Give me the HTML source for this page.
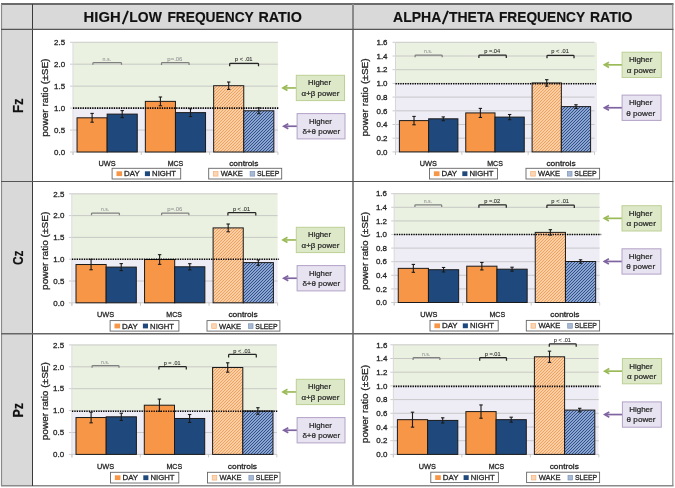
<!DOCTYPE html>
<html><head><meta charset="utf-8"><style>
html,body{margin:0;padding:0;background:#fff;width:675px;height:488px;overflow:hidden}
svg{display:block;font-family:"Liberation Sans", sans-serif;will-change:transform}
</style></head><body>
<svg width="675" height="488" viewBox="0 0 675 488">
<defs>
<pattern id="hwake" patternUnits="userSpaceOnUse" x="0" y="0" width="3" height="3">
<rect width="3" height="3" fill="#FBCFA4"/><rect x="0" y="2" width="1" height="1" fill="#F2A060"/><rect x="1" y="1" width="1" height="1" fill="#F2A060"/><rect x="2" y="0" width="1" height="1" fill="#F2A060"/></pattern>
<pattern id="hsleep" patternUnits="userSpaceOnUse" x="0" y="0" width="3" height="3">
<rect width="3" height="3" fill="#8AA5CF"/><rect x="0" y="2" width="1" height="1" fill="#34508A"/><rect x="1" y="1" width="1" height="1" fill="#34508A"/><rect x="2" y="0" width="1" height="1" fill="#34508A"/></pattern>
</defs>
<rect x="0" y="0" width="675" height="488" fill="#fff"/>
<rect x="1.50" y="4.00" width="671.50" height="25.00" fill="#D9D9D9" />
<rect x="1.50" y="29.00" width="31.00" height="456.50" fill="#D9D9D9" />
<rect x="73.50" y="42.25" width="204.40" height="65.85" fill="#EAF1E0" />
<rect x="73.50" y="108.10" width="204.40" height="43.90" fill="#EEECF5" />
<line x1="70.00" y1="152.00" x2="277.90" y2="152.00" stroke="#BFBFBF" stroke-width="0.8" />
<text x="54.08" y="154.75" font-size="8.0" fill="#262626" font-weight="normal" stroke="#262626" stroke-width="0.3" textLength="11.04" lengthAdjust="spacingAndGlyphs" >0.0</text>
<line x1="70.00" y1="130.05" x2="277.90" y2="130.05" stroke="#BFBFBF" stroke-width="0.8" />
<text x="54.08" y="132.80" font-size="8.0" fill="#262626" font-weight="normal" stroke="#262626" stroke-width="0.3" textLength="11.04" lengthAdjust="spacingAndGlyphs" >0.5</text>
<line x1="70.00" y1="108.10" x2="277.90" y2="108.10" stroke="#BFBFBF" stroke-width="0.8" />
<text x="54.08" y="110.85" font-size="8.0" fill="#262626" font-weight="normal" stroke="#262626" stroke-width="0.3" textLength="11.04" lengthAdjust="spacingAndGlyphs" >1.0</text>
<line x1="70.00" y1="86.15" x2="277.90" y2="86.15" stroke="#BFBFBF" stroke-width="0.8" />
<text x="54.08" y="88.90" font-size="8.0" fill="#262626" font-weight="normal" stroke="#262626" stroke-width="0.3" textLength="11.04" lengthAdjust="spacingAndGlyphs" >1.5</text>
<line x1="70.00" y1="64.20" x2="277.90" y2="64.20" stroke="#BFBFBF" stroke-width="0.8" />
<text x="54.08" y="66.95" font-size="8.0" fill="#262626" font-weight="normal" stroke="#262626" stroke-width="0.3" textLength="11.04" lengthAdjust="spacingAndGlyphs" >2.0</text>
<line x1="70.00" y1="42.25" x2="277.90" y2="42.25" stroke="#BFBFBF" stroke-width="0.8" />
<text x="54.08" y="45.00" font-size="8.0" fill="#262626" font-weight="normal" stroke="#262626" stroke-width="0.3" textLength="11.04" lengthAdjust="spacingAndGlyphs" >2.5</text>
<line x1="73.00" y1="42.25" x2="73.00" y2="155.00" stroke="#D6D6DA" stroke-width="1" />
<line x1="73.00" y1="152.00" x2="73.00" y2="155.00" stroke="#BFBFBF" stroke-width="0.8" />
<line x1="141.30" y1="152.00" x2="141.30" y2="155.00" stroke="#BFBFBF" stroke-width="0.8" />
<line x1="209.60" y1="152.00" x2="209.60" y2="155.00" stroke="#BFBFBF" stroke-width="0.8" />
<line x1="277.90" y1="152.00" x2="277.90" y2="155.00" stroke="#BFBFBF" stroke-width="0.8" />
<rect x="77.05" y="117.80" width="30.10" height="34.20" fill="#F79646" stroke="#1a1a1a" stroke-width="1" />
<rect x="107.15" y="114.11" width="30.10" height="37.89" fill="#1F497D" stroke="#1a1a1a" stroke-width="1" />
<rect x="145.35" y="101.38" width="30.10" height="50.62" fill="#F79646" stroke="#1a1a1a" stroke-width="1" />
<rect x="175.45" y="112.62" width="30.10" height="39.38" fill="#1F497D" stroke="#1a1a1a" stroke-width="1" />
<rect x="213.65" y="85.71" width="30.10" height="66.29" fill="url(#hwake)" stroke="#1a1a1a" stroke-width="1" />
<rect x="243.75" y="110.78" width="30.10" height="41.22" fill="url(#hsleep)" stroke="#1a1a1a" stroke-width="1" />
<line x1="73.00" y1="108.10" x2="279.40" y2="108.10" stroke="#000" stroke-width="1.6" stroke-dasharray="1.3 1.1"/>
<line x1="92.10" y1="113.41" x2="92.10" y2="122.19" stroke="#1a1a1a" stroke-width="1.1" />
<line x1="90.40" y1="113.41" x2="93.80" y2="113.41" stroke="#1a1a1a" stroke-width="1.1" />
<line x1="90.40" y1="122.19" x2="93.80" y2="122.19" stroke="#1a1a1a" stroke-width="1.1" />
<line x1="122.20" y1="110.60" x2="122.20" y2="117.63" stroke="#1a1a1a" stroke-width="1.1" />
<line x1="120.50" y1="110.60" x2="123.90" y2="110.60" stroke="#1a1a1a" stroke-width="1.1" />
<line x1="120.50" y1="117.63" x2="123.90" y2="117.63" stroke="#1a1a1a" stroke-width="1.1" />
<line x1="160.40" y1="96.99" x2="160.40" y2="105.77" stroke="#1a1a1a" stroke-width="1.1" />
<line x1="158.70" y1="96.99" x2="162.10" y2="96.99" stroke="#1a1a1a" stroke-width="1.1" />
<line x1="158.70" y1="105.77" x2="162.10" y2="105.77" stroke="#1a1a1a" stroke-width="1.1" />
<line x1="190.50" y1="108.71" x2="190.50" y2="116.53" stroke="#1a1a1a" stroke-width="1.1" />
<line x1="188.80" y1="108.71" x2="192.20" y2="108.71" stroke="#1a1a1a" stroke-width="1.1" />
<line x1="188.80" y1="116.53" x2="192.20" y2="116.53" stroke="#1a1a1a" stroke-width="1.1" />
<line x1="228.70" y1="82.02" x2="228.70" y2="89.40" stroke="#1a1a1a" stroke-width="1.1" />
<line x1="227.00" y1="82.02" x2="230.40" y2="82.02" stroke="#1a1a1a" stroke-width="1.1" />
<line x1="227.00" y1="89.40" x2="230.40" y2="89.40" stroke="#1a1a1a" stroke-width="1.1" />
<line x1="258.80" y1="107.84" x2="258.80" y2="113.72" stroke="#1a1a1a" stroke-width="1.1" />
<line x1="257.10" y1="107.84" x2="260.50" y2="107.84" stroke="#1a1a1a" stroke-width="1.1" />
<line x1="257.10" y1="113.72" x2="260.50" y2="113.72" stroke="#1a1a1a" stroke-width="1.1" />
<path d="M92.90,64.80 L92.90,63.40 Q92.90,62.60 93.70,62.60 L120.70,62.60 Q121.50,62.60 121.50,63.40 L121.50,64.80" fill="none" stroke="#808080" stroke-width="1.25"/>
<text x="102.58" y="60.70" font-size="5.4" fill="#9A9A9A" font-weight="normal" stroke="#9A9A9A" stroke-width="0.1" textLength="8.43" lengthAdjust="spacingAndGlyphs" >n.s.</text>
<path d="M161.50,64.90 L161.50,63.50 Q161.50,62.70 162.30,62.70 L188.30,62.70 Q189.10,62.70 189.10,63.50 L189.10,64.90" fill="none" stroke="#808080" stroke-width="1.25"/>
<text x="167.38" y="60.80" font-size="5.4" fill="#9A9A9A" font-weight="normal" stroke="#9A9A9A" stroke-width="0.1" textLength="15.03" lengthAdjust="spacingAndGlyphs" >p=.06</text>
<path d="M229.70,66.30 L229.70,64.10 Q229.70,63.30 230.50,63.30 L257.70,63.30 Q258.50,63.30 258.50,64.10 L258.50,66.30" fill="none" stroke="#262626" stroke-width="1.25"/>
<text x="234.88" y="61.40" font-size="5.4" fill="#333333" font-weight="normal" stroke="#333333" stroke-width="0.1" textLength="17.63" lengthAdjust="spacingAndGlyphs" >p &lt; .01</text>
<text x="98.49" y="165.70" font-size="7.8" fill="#262626" font-weight="normal" stroke="#262626" stroke-width="0.3" textLength="17.12" lengthAdjust="spacingAndGlyphs" >UWS</text>
<text x="167.69" y="165.70" font-size="7.8" fill="#262626" font-weight="normal" stroke="#262626" stroke-width="0.3" textLength="15.62" lengthAdjust="spacingAndGlyphs" >MCS</text>
<text x="229.19" y="165.70" font-size="7.8" fill="#262626" font-weight="normal" stroke="#262626" stroke-width="0.3" textLength="29.22" lengthAdjust="spacingAndGlyphs" >controls</text>
<text x="0" y="0" font-size="9.6" fill="#262626" stroke="#262626" stroke-width="0.3" textLength="78.2" lengthAdjust="spacingAndGlyphs" transform="translate(47.90,136.75) rotate(-90)">power ratio (±SE)</text>
<rect x="112.10" y="168.30" width="68.60" height="10.70" fill="#fff" stroke="#666" stroke-width="0.9" />
<rect x="116.50" y="171.30" width="5.60" height="4.80" fill="#F79646" />
<text x="124.08" y="176.30" font-size="7.9" fill="#262626" font-weight="normal" stroke="#262626" stroke-width="0.3" textLength="15.63" lengthAdjust="spacingAndGlyphs" >DAY</text>
<rect x="144.90" y="171.30" width="5.10" height="4.80" fill="#1F497D" />
<text x="152.08" y="176.30" font-size="7.9" fill="#262626" font-weight="normal" stroke="#262626" stroke-width="0.3" textLength="23.93" lengthAdjust="spacingAndGlyphs" >NIGHT</text>
<rect x="208.70" y="168.30" width="73.00" height="10.70" fill="#fff" stroke="#666" stroke-width="0.9" />
<rect x="213.40" y="171.50" width="4.60" height="4.60" fill="#FCD5B5" stroke="#F5B27A" stroke-width="0.7" />
<text x="220.78" y="176.30" font-size="7.9" fill="#262626" font-weight="normal" stroke="#262626" stroke-width="0.3" textLength="21.93" lengthAdjust="spacingAndGlyphs" >WAKE</text>
<rect x="250.10" y="171.50" width="4.60" height="4.60" fill="#A7B9D3" stroke="#7F95B8" stroke-width="0.7" />
<text x="256.98" y="176.30" font-size="7.9" fill="#262626" font-weight="normal" stroke="#262626" stroke-width="0.3" textLength="22.33" lengthAdjust="spacingAndGlyphs" >SLEEP</text>
<rect x="396.00" y="42.30" width="201.00" height="41.10" fill="#EAF1E0" />
<rect x="396.00" y="83.40" width="201.00" height="68.50" fill="#EEECF5" />
<line x1="392.50" y1="151.90" x2="594.55" y2="151.90" stroke="#BFBFBF" stroke-width="0.8" />
<text x="376.48" y="154.65" font-size="8.0" fill="#262626" font-weight="normal" stroke="#262626" stroke-width="0.3" textLength="11.04" lengthAdjust="spacingAndGlyphs" >0.0</text>
<line x1="392.50" y1="138.20" x2="594.55" y2="138.20" stroke="#BFBFBF" stroke-width="0.8" />
<text x="376.48" y="140.95" font-size="8.0" fill="#262626" font-weight="normal" stroke="#262626" stroke-width="0.3" textLength="11.04" lengthAdjust="spacingAndGlyphs" >0.2</text>
<line x1="392.50" y1="124.50" x2="594.55" y2="124.50" stroke="#BFBFBF" stroke-width="0.8" />
<text x="376.48" y="127.25" font-size="8.0" fill="#262626" font-weight="normal" stroke="#262626" stroke-width="0.3" textLength="11.04" lengthAdjust="spacingAndGlyphs" >0.4</text>
<line x1="392.50" y1="110.80" x2="594.55" y2="110.80" stroke="#BFBFBF" stroke-width="0.8" />
<text x="376.48" y="113.55" font-size="8.0" fill="#262626" font-weight="normal" stroke="#262626" stroke-width="0.3" textLength="11.04" lengthAdjust="spacingAndGlyphs" >0.6</text>
<line x1="392.50" y1="97.10" x2="594.55" y2="97.10" stroke="#BFBFBF" stroke-width="0.8" />
<text x="376.48" y="99.85" font-size="8.0" fill="#262626" font-weight="normal" stroke="#262626" stroke-width="0.3" textLength="11.04" lengthAdjust="spacingAndGlyphs" >0.8</text>
<line x1="392.50" y1="83.40" x2="594.55" y2="83.40" stroke="#BFBFBF" stroke-width="0.8" />
<text x="376.48" y="86.15" font-size="8.0" fill="#262626" font-weight="normal" stroke="#262626" stroke-width="0.3" textLength="11.04" lengthAdjust="spacingAndGlyphs" >1.0</text>
<line x1="392.50" y1="69.70" x2="594.55" y2="69.70" stroke="#BFBFBF" stroke-width="0.8" />
<text x="376.48" y="72.45" font-size="8.0" fill="#262626" font-weight="normal" stroke="#262626" stroke-width="0.3" textLength="11.04" lengthAdjust="spacingAndGlyphs" >1.2</text>
<line x1="392.50" y1="56.00" x2="594.55" y2="56.00" stroke="#BFBFBF" stroke-width="0.8" />
<text x="376.48" y="58.75" font-size="8.0" fill="#262626" font-weight="normal" stroke="#262626" stroke-width="0.3" textLength="11.04" lengthAdjust="spacingAndGlyphs" >1.4</text>
<line x1="392.50" y1="42.30" x2="594.55" y2="42.30" stroke="#BFBFBF" stroke-width="0.8" />
<text x="376.48" y="45.05" font-size="8.0" fill="#262626" font-weight="normal" stroke="#262626" stroke-width="0.3" textLength="11.04" lengthAdjust="spacingAndGlyphs" >1.6</text>
<line x1="395.50" y1="42.30" x2="395.50" y2="154.90" stroke="#D6D6DA" stroke-width="1" />
<line x1="395.50" y1="151.90" x2="395.50" y2="154.90" stroke="#BFBFBF" stroke-width="0.8" />
<line x1="461.85" y1="151.90" x2="461.85" y2="154.90" stroke="#BFBFBF" stroke-width="0.8" />
<line x1="528.20" y1="151.90" x2="528.20" y2="154.90" stroke="#BFBFBF" stroke-width="0.8" />
<line x1="594.55" y1="151.90" x2="594.55" y2="154.90" stroke="#BFBFBF" stroke-width="0.8" />
<rect x="399.40" y="120.60" width="29.25" height="31.30" fill="#F79646" stroke="#1a1a1a" stroke-width="1" />
<rect x="428.65" y="118.81" width="29.25" height="33.09" fill="#1F497D" stroke="#1a1a1a" stroke-width="1" />
<rect x="465.75" y="112.92" width="29.25" height="38.98" fill="#F79646" stroke="#1a1a1a" stroke-width="1" />
<rect x="495.00" y="117.10" width="29.25" height="34.80" fill="#1F497D" stroke="#1a1a1a" stroke-width="1" />
<rect x="532.10" y="82.92" width="29.25" height="68.98" fill="url(#hwake)" stroke="#1a1a1a" stroke-width="1" />
<rect x="561.35" y="106.62" width="29.25" height="45.28" fill="url(#hsleep)" stroke="#1a1a1a" stroke-width="1" />
<line x1="395.50" y1="83.70" x2="596.05" y2="83.70" stroke="#000" stroke-width="1.6" stroke-dasharray="1.3 1.1"/>
<line x1="414.02" y1="116.42" x2="414.02" y2="124.77" stroke="#1a1a1a" stroke-width="1.1" />
<line x1="412.32" y1="116.42" x2="415.72" y2="116.42" stroke="#1a1a1a" stroke-width="1.1" />
<line x1="412.32" y1="124.77" x2="415.72" y2="124.77" stroke="#1a1a1a" stroke-width="1.1" />
<line x1="443.27" y1="116.90" x2="443.27" y2="120.73" stroke="#1a1a1a" stroke-width="1.1" />
<line x1="441.57" y1="116.90" x2="444.97" y2="116.90" stroke="#1a1a1a" stroke-width="1.1" />
<line x1="441.57" y1="120.73" x2="444.97" y2="120.73" stroke="#1a1a1a" stroke-width="1.1" />
<line x1="480.38" y1="108.40" x2="480.38" y2="117.44" stroke="#1a1a1a" stroke-width="1.1" />
<line x1="478.68" y1="108.40" x2="482.07" y2="108.40" stroke="#1a1a1a" stroke-width="1.1" />
<line x1="478.68" y1="117.44" x2="482.07" y2="117.44" stroke="#1a1a1a" stroke-width="1.1" />
<line x1="509.62" y1="114.50" x2="509.62" y2="119.71" stroke="#1a1a1a" stroke-width="1.1" />
<line x1="507.93" y1="114.50" x2="511.32" y2="114.50" stroke="#1a1a1a" stroke-width="1.1" />
<line x1="507.93" y1="119.71" x2="511.32" y2="119.71" stroke="#1a1a1a" stroke-width="1.1" />
<line x1="546.73" y1="79.70" x2="546.73" y2="86.14" stroke="#1a1a1a" stroke-width="1.1" />
<line x1="545.02" y1="79.70" x2="548.43" y2="79.70" stroke="#1a1a1a" stroke-width="1.1" />
<line x1="545.02" y1="86.14" x2="548.43" y2="86.14" stroke="#1a1a1a" stroke-width="1.1" />
<line x1="575.98" y1="104.77" x2="575.98" y2="108.47" stroke="#1a1a1a" stroke-width="1.1" />
<line x1="574.27" y1="104.77" x2="577.68" y2="104.77" stroke="#1a1a1a" stroke-width="1.1" />
<line x1="574.27" y1="108.47" x2="577.68" y2="108.47" stroke="#1a1a1a" stroke-width="1.1" />
<path d="M415.10,57.30 L415.10,55.90 Q415.10,55.10 415.90,55.10 L441.40,55.10 Q442.20,55.10 442.20,55.90 L442.20,57.30" fill="none" stroke="#808080" stroke-width="1.25"/>
<text x="424.03" y="53.20" font-size="5.4" fill="#9A9A9A" font-weight="normal" stroke="#9A9A9A" stroke-width="0.1" textLength="8.43" lengthAdjust="spacingAndGlyphs" >n.s.</text>
<path d="M478.90,58.10 L478.90,55.90 Q478.90,55.10 479.70,55.10 L505.50,55.10 Q506.30,55.10 506.30,55.90 L506.30,58.10" fill="none" stroke="#262626" stroke-width="1.25"/>
<text x="484.23" y="53.20" font-size="5.4" fill="#333333" font-weight="normal" stroke="#333333" stroke-width="0.1" textLength="15.93" lengthAdjust="spacingAndGlyphs" >p =.04</text>
<path d="M547.00,58.30 L547.00,56.10 Q547.00,55.30 547.80,55.30 L573.20,55.30 Q574.00,55.30 574.00,56.10 L574.00,58.30" fill="none" stroke="#262626" stroke-width="1.25"/>
<text x="551.28" y="53.40" font-size="5.4" fill="#333333" font-weight="normal" stroke="#333333" stroke-width="0.1" textLength="17.63" lengthAdjust="spacingAndGlyphs" >p &lt; .01</text>
<text x="419.79" y="165.70" font-size="7.8" fill="#262626" font-weight="normal" stroke="#262626" stroke-width="0.3" textLength="17.12" lengthAdjust="spacingAndGlyphs" >UWS</text>
<text x="487.24" y="165.70" font-size="7.8" fill="#262626" font-weight="normal" stroke="#262626" stroke-width="0.3" textLength="15.62" lengthAdjust="spacingAndGlyphs" >MCS</text>
<text x="546.44" y="165.70" font-size="7.8" fill="#262626" font-weight="normal" stroke="#262626" stroke-width="0.3" textLength="29.22" lengthAdjust="spacingAndGlyphs" >controls</text>
<text x="0" y="0" font-size="9.6" fill="#262626" stroke="#262626" stroke-width="0.3" textLength="78.2" lengthAdjust="spacingAndGlyphs" transform="translate(367.90,136.55) rotate(-90)">power ratio (±SE)</text>
<rect x="429.50" y="168.30" width="68.00" height="10.70" fill="#fff" stroke="#666" stroke-width="0.9" />
<rect x="433.90" y="171.30" width="5.60" height="4.80" fill="#F79646" />
<text x="441.48" y="176.30" font-size="7.9" fill="#262626" font-weight="normal" stroke="#262626" stroke-width="0.3" textLength="15.63" lengthAdjust="spacingAndGlyphs" >DAY</text>
<rect x="462.30" y="171.30" width="5.10" height="4.80" fill="#1F497D" />
<text x="469.48" y="176.30" font-size="7.9" fill="#262626" font-weight="normal" stroke="#262626" stroke-width="0.3" textLength="23.93" lengthAdjust="spacingAndGlyphs" >NIGHT</text>
<rect x="526.00" y="168.30" width="73.60" height="10.70" fill="#fff" stroke="#666" stroke-width="0.9" />
<rect x="530.70" y="171.50" width="4.60" height="4.60" fill="#FCD5B5" stroke="#F5B27A" stroke-width="0.7" />
<text x="538.08" y="176.30" font-size="7.9" fill="#262626" font-weight="normal" stroke="#262626" stroke-width="0.3" textLength="21.93" lengthAdjust="spacingAndGlyphs" >WAKE</text>
<rect x="567.40" y="171.50" width="4.60" height="4.60" fill="#A7B9D3" stroke="#7F95B8" stroke-width="0.7" />
<text x="574.28" y="176.30" font-size="7.9" fill="#262626" font-weight="normal" stroke="#262626" stroke-width="0.3" textLength="22.33" lengthAdjust="spacingAndGlyphs" >SLEEP</text>
<rect x="72.40" y="193.80" width="205.20" height="65.40" fill="#EAF1E0" />
<rect x="72.40" y="259.20" width="205.20" height="43.60" fill="#EEECF5" />
<line x1="68.90" y1="302.80" x2="277.55" y2="302.80" stroke="#BFBFBF" stroke-width="0.8" />
<text x="53.28" y="305.55" font-size="8.0" fill="#262626" font-weight="normal" stroke="#262626" stroke-width="0.3" textLength="11.04" lengthAdjust="spacingAndGlyphs" >0.0</text>
<line x1="68.90" y1="281.00" x2="277.55" y2="281.00" stroke="#BFBFBF" stroke-width="0.8" />
<text x="53.28" y="283.75" font-size="8.0" fill="#262626" font-weight="normal" stroke="#262626" stroke-width="0.3" textLength="11.04" lengthAdjust="spacingAndGlyphs" >0.5</text>
<line x1="68.90" y1="259.20" x2="277.55" y2="259.20" stroke="#BFBFBF" stroke-width="0.8" />
<text x="53.28" y="261.95" font-size="8.0" fill="#262626" font-weight="normal" stroke="#262626" stroke-width="0.3" textLength="11.04" lengthAdjust="spacingAndGlyphs" >1.0</text>
<line x1="68.90" y1="237.40" x2="277.55" y2="237.40" stroke="#BFBFBF" stroke-width="0.8" />
<text x="53.28" y="240.15" font-size="8.0" fill="#262626" font-weight="normal" stroke="#262626" stroke-width="0.3" textLength="11.04" lengthAdjust="spacingAndGlyphs" >1.5</text>
<line x1="68.90" y1="215.60" x2="277.55" y2="215.60" stroke="#BFBFBF" stroke-width="0.8" />
<text x="53.28" y="218.35" font-size="8.0" fill="#262626" font-weight="normal" stroke="#262626" stroke-width="0.3" textLength="11.04" lengthAdjust="spacingAndGlyphs" >2.0</text>
<line x1="68.90" y1="193.80" x2="277.55" y2="193.80" stroke="#BFBFBF" stroke-width="0.8" />
<text x="53.28" y="196.55" font-size="8.0" fill="#262626" font-weight="normal" stroke="#262626" stroke-width="0.3" textLength="11.04" lengthAdjust="spacingAndGlyphs" >2.5</text>
<line x1="71.90" y1="193.80" x2="71.90" y2="305.80" stroke="#D6D6DA" stroke-width="1" />
<line x1="71.90" y1="302.80" x2="71.90" y2="305.80" stroke="#BFBFBF" stroke-width="0.8" />
<line x1="140.45" y1="302.80" x2="140.45" y2="305.80" stroke="#BFBFBF" stroke-width="0.8" />
<line x1="209.00" y1="302.80" x2="209.00" y2="305.80" stroke="#BFBFBF" stroke-width="0.8" />
<line x1="277.55" y1="302.80" x2="277.55" y2="305.80" stroke="#BFBFBF" stroke-width="0.8" />
<rect x="76.00" y="264.52" width="30.15" height="38.28" fill="#F79646" stroke="#1a1a1a" stroke-width="1" />
<rect x="106.15" y="267.09" width="30.15" height="35.71" fill="#1F497D" stroke="#1a1a1a" stroke-width="1" />
<rect x="144.55" y="259.51" width="30.15" height="43.29" fill="#F79646" stroke="#1a1a1a" stroke-width="1" />
<rect x="174.70" y="266.79" width="30.15" height="36.01" fill="#1F497D" stroke="#1a1a1a" stroke-width="1" />
<rect x="213.10" y="227.90" width="30.15" height="74.90" fill="url(#hwake)" stroke="#1a1a1a" stroke-width="1" />
<rect x="243.25" y="262.60" width="30.15" height="40.20" fill="url(#hsleep)" stroke="#1a1a1a" stroke-width="1" />
<line x1="71.90" y1="259.20" x2="279.05" y2="259.20" stroke="#000" stroke-width="1.6" stroke-dasharray="1.3 1.1"/>
<line x1="91.08" y1="259.29" x2="91.08" y2="269.75" stroke="#1a1a1a" stroke-width="1.1" />
<line x1="89.38" y1="259.29" x2="92.78" y2="259.29" stroke="#1a1a1a" stroke-width="1.1" />
<line x1="89.38" y1="269.75" x2="92.78" y2="269.75" stroke="#1a1a1a" stroke-width="1.1" />
<line x1="121.23" y1="263.60" x2="121.23" y2="270.58" stroke="#1a1a1a" stroke-width="1.1" />
<line x1="119.53" y1="263.60" x2="122.93" y2="263.60" stroke="#1a1a1a" stroke-width="1.1" />
<line x1="119.53" y1="270.58" x2="122.93" y2="270.58" stroke="#1a1a1a" stroke-width="1.1" />
<line x1="159.62" y1="254.67" x2="159.62" y2="264.34" stroke="#1a1a1a" stroke-width="1.1" />
<line x1="157.92" y1="254.67" x2="161.32" y2="254.67" stroke="#1a1a1a" stroke-width="1.1" />
<line x1="157.92" y1="264.34" x2="161.32" y2="264.34" stroke="#1a1a1a" stroke-width="1.1" />
<line x1="189.77" y1="263.69" x2="189.77" y2="269.88" stroke="#1a1a1a" stroke-width="1.1" />
<line x1="188.07" y1="263.69" x2="191.47" y2="263.69" stroke="#1a1a1a" stroke-width="1.1" />
<line x1="188.07" y1="269.88" x2="191.47" y2="269.88" stroke="#1a1a1a" stroke-width="1.1" />
<line x1="228.17" y1="224.01" x2="228.17" y2="231.78" stroke="#1a1a1a" stroke-width="1.1" />
<line x1="226.47" y1="224.01" x2="229.87" y2="224.01" stroke="#1a1a1a" stroke-width="1.1" />
<line x1="226.47" y1="231.78" x2="229.87" y2="231.78" stroke="#1a1a1a" stroke-width="1.1" />
<line x1="258.32" y1="259.90" x2="258.32" y2="265.30" stroke="#1a1a1a" stroke-width="1.1" />
<line x1="256.62" y1="259.90" x2="260.02" y2="259.90" stroke="#1a1a1a" stroke-width="1.1" />
<line x1="256.62" y1="265.30" x2="260.02" y2="265.30" stroke="#1a1a1a" stroke-width="1.1" />
<path d="M91.50,215.20 L91.50,213.80 Q91.50,213.00 92.30,213.00 L118.60,213.00 Q119.40,213.00 119.40,213.80 L119.40,215.20" fill="none" stroke="#808080" stroke-width="1.25"/>
<text x="100.98" y="211.10" font-size="5.4" fill="#9A9A9A" font-weight="normal" stroke="#9A9A9A" stroke-width="0.1" textLength="8.13" lengthAdjust="spacingAndGlyphs" >n.s.</text>
<path d="M161.60,215.20 L161.60,213.80 Q161.60,213.00 162.40,213.00 L188.10,213.00 Q188.90,213.00 188.90,213.80 L188.90,215.20" fill="none" stroke="#808080" stroke-width="1.25"/>
<text x="167.33" y="211.10" font-size="5.4" fill="#9A9A9A" font-weight="normal" stroke="#9A9A9A" stroke-width="0.1" textLength="15.03" lengthAdjust="spacingAndGlyphs" >p=.06</text>
<path d="M227.90,215.50 L227.90,213.30 Q227.90,212.50 228.70,212.50 L255.00,212.50 Q255.80,212.50 255.80,213.30 L255.80,215.50" fill="none" stroke="#262626" stroke-width="1.25"/>
<text x="232.93" y="210.60" font-size="5.4" fill="#333333" font-weight="normal" stroke="#333333" stroke-width="0.1" textLength="17.03" lengthAdjust="spacingAndGlyphs" >p &lt; .01</text>
<text x="96.99" y="316.80" font-size="7.8" fill="#262626" font-weight="normal" stroke="#262626" stroke-width="0.3" textLength="17.12" lengthAdjust="spacingAndGlyphs" >UWS</text>
<text x="166.34" y="316.80" font-size="7.8" fill="#262626" font-weight="normal" stroke="#262626" stroke-width="0.3" textLength="15.62" lengthAdjust="spacingAndGlyphs" >MCS</text>
<text x="228.44" y="316.80" font-size="7.8" fill="#262626" font-weight="normal" stroke="#262626" stroke-width="0.3" textLength="29.22" lengthAdjust="spacingAndGlyphs" >controls</text>
<text x="0" y="0" font-size="9.6" fill="#262626" stroke="#262626" stroke-width="0.3" textLength="78.2" lengthAdjust="spacingAndGlyphs" transform="translate(47.90,289.95) rotate(-90)">power ratio (±SE)</text>
<rect x="110.10" y="320.60" width="68.80" height="10.50" fill="#fff" stroke="#666" stroke-width="0.9" />
<rect x="114.50" y="323.60" width="5.60" height="4.80" fill="#F79646" />
<text x="122.08" y="328.60" font-size="7.9" fill="#262626" font-weight="normal" stroke="#262626" stroke-width="0.3" textLength="15.63" lengthAdjust="spacingAndGlyphs" >DAY</text>
<rect x="142.90" y="323.60" width="5.10" height="4.80" fill="#1F497D" />
<text x="150.08" y="328.60" font-size="7.9" fill="#262626" font-weight="normal" stroke="#262626" stroke-width="0.3" textLength="23.93" lengthAdjust="spacingAndGlyphs" >NIGHT</text>
<rect x="207.00" y="320.60" width="72.90" height="10.50" fill="#fff" stroke="#666" stroke-width="0.9" />
<rect x="211.70" y="323.80" width="4.60" height="4.60" fill="#FCD5B5" stroke="#F5B27A" stroke-width="0.7" />
<text x="219.08" y="328.60" font-size="7.9" fill="#262626" font-weight="normal" stroke="#262626" stroke-width="0.3" textLength="21.93" lengthAdjust="spacingAndGlyphs" >WAKE</text>
<rect x="248.40" y="323.80" width="4.60" height="4.60" fill="#A7B9D3" stroke="#7F95B8" stroke-width="0.7" />
<text x="255.28" y="328.60" font-size="7.9" fill="#262626" font-weight="normal" stroke="#262626" stroke-width="0.3" textLength="22.33" lengthAdjust="spacingAndGlyphs" >SLEEP</text>
<rect x="394.70" y="193.70" width="204.80" height="40.80" fill="#EAF1E0" />
<rect x="394.70" y="234.50" width="204.80" height="68.00" fill="#EEECF5" />
<line x1="391.20" y1="302.50" x2="599.70" y2="302.50" stroke="#BFBFBF" stroke-width="0.8" />
<text x="375.88" y="305.25" font-size="8.0" fill="#262626" font-weight="normal" stroke="#262626" stroke-width="0.3" textLength="11.04" lengthAdjust="spacingAndGlyphs" >0.0</text>
<line x1="391.20" y1="288.90" x2="599.70" y2="288.90" stroke="#BFBFBF" stroke-width="0.8" />
<text x="375.88" y="291.65" font-size="8.0" fill="#262626" font-weight="normal" stroke="#262626" stroke-width="0.3" textLength="11.04" lengthAdjust="spacingAndGlyphs" >0.2</text>
<line x1="391.20" y1="275.30" x2="599.70" y2="275.30" stroke="#BFBFBF" stroke-width="0.8" />
<text x="375.88" y="278.05" font-size="8.0" fill="#262626" font-weight="normal" stroke="#262626" stroke-width="0.3" textLength="11.04" lengthAdjust="spacingAndGlyphs" >0.4</text>
<line x1="391.20" y1="261.70" x2="599.70" y2="261.70" stroke="#BFBFBF" stroke-width="0.8" />
<text x="375.88" y="264.45" font-size="8.0" fill="#262626" font-weight="normal" stroke="#262626" stroke-width="0.3" textLength="11.04" lengthAdjust="spacingAndGlyphs" >0.6</text>
<line x1="391.20" y1="248.10" x2="599.70" y2="248.10" stroke="#BFBFBF" stroke-width="0.8" />
<text x="375.88" y="250.85" font-size="8.0" fill="#262626" font-weight="normal" stroke="#262626" stroke-width="0.3" textLength="11.04" lengthAdjust="spacingAndGlyphs" >0.8</text>
<line x1="391.20" y1="234.50" x2="599.70" y2="234.50" stroke="#BFBFBF" stroke-width="0.8" />
<text x="375.88" y="237.25" font-size="8.0" fill="#262626" font-weight="normal" stroke="#262626" stroke-width="0.3" textLength="11.04" lengthAdjust="spacingAndGlyphs" >1.0</text>
<line x1="391.20" y1="220.90" x2="599.70" y2="220.90" stroke="#BFBFBF" stroke-width="0.8" />
<text x="375.88" y="223.65" font-size="8.0" fill="#262626" font-weight="normal" stroke="#262626" stroke-width="0.3" textLength="11.04" lengthAdjust="spacingAndGlyphs" >1.2</text>
<line x1="391.20" y1="207.30" x2="599.70" y2="207.30" stroke="#BFBFBF" stroke-width="0.8" />
<text x="375.88" y="210.05" font-size="8.0" fill="#262626" font-weight="normal" stroke="#262626" stroke-width="0.3" textLength="11.04" lengthAdjust="spacingAndGlyphs" >1.4</text>
<line x1="391.20" y1="193.70" x2="599.70" y2="193.70" stroke="#BFBFBF" stroke-width="0.8" />
<text x="375.88" y="196.45" font-size="8.0" fill="#262626" font-weight="normal" stroke="#262626" stroke-width="0.3" textLength="11.04" lengthAdjust="spacingAndGlyphs" >1.6</text>
<line x1="394.20" y1="193.70" x2="394.20" y2="305.50" stroke="#D6D6DA" stroke-width="1" />
<line x1="394.20" y1="302.50" x2="394.20" y2="305.50" stroke="#BFBFBF" stroke-width="0.8" />
<line x1="462.70" y1="302.50" x2="462.70" y2="305.50" stroke="#BFBFBF" stroke-width="0.8" />
<line x1="531.20" y1="302.50" x2="531.20" y2="305.50" stroke="#BFBFBF" stroke-width="0.8" />
<line x1="599.70" y1="302.50" x2="599.70" y2="305.50" stroke="#BFBFBF" stroke-width="0.8" />
<rect x="398.25" y="268.36" width="30.20" height="34.14" fill="#F79646" stroke="#1a1a1a" stroke-width="1" />
<rect x="428.45" y="269.72" width="30.20" height="32.78" fill="#1F497D" stroke="#1a1a1a" stroke-width="1" />
<rect x="466.75" y="266.19" width="30.20" height="36.31" fill="#F79646" stroke="#1a1a1a" stroke-width="1" />
<rect x="496.95" y="269.18" width="30.20" height="33.32" fill="#1F497D" stroke="#1a1a1a" stroke-width="1" />
<rect x="535.25" y="232.39" width="30.20" height="70.11" fill="url(#hwake)" stroke="#1a1a1a" stroke-width="1" />
<rect x="565.45" y="261.50" width="30.20" height="41.00" fill="url(#hsleep)" stroke="#1a1a1a" stroke-width="1" />
<line x1="394.20" y1="234.50" x2="601.20" y2="234.50" stroke="#000" stroke-width="1.6" stroke-dasharray="1.3 1.1"/>
<line x1="413.35" y1="264.42" x2="413.35" y2="272.31" stroke="#1a1a1a" stroke-width="1.1" />
<line x1="411.65" y1="264.42" x2="415.05" y2="264.42" stroke="#1a1a1a" stroke-width="1.1" />
<line x1="411.65" y1="272.31" x2="415.05" y2="272.31" stroke="#1a1a1a" stroke-width="1.1" />
<line x1="443.55" y1="267.48" x2="443.55" y2="271.97" stroke="#1a1a1a" stroke-width="1.1" />
<line x1="441.85" y1="267.48" x2="445.25" y2="267.48" stroke="#1a1a1a" stroke-width="1.1" />
<line x1="441.85" y1="271.97" x2="445.25" y2="271.97" stroke="#1a1a1a" stroke-width="1.1" />
<line x1="481.85" y1="262.45" x2="481.85" y2="269.93" stroke="#1a1a1a" stroke-width="1.1" />
<line x1="480.15" y1="262.45" x2="483.55" y2="262.45" stroke="#1a1a1a" stroke-width="1.1" />
<line x1="480.15" y1="269.93" x2="483.55" y2="269.93" stroke="#1a1a1a" stroke-width="1.1" />
<line x1="512.05" y1="267.21" x2="512.05" y2="271.15" stroke="#1a1a1a" stroke-width="1.1" />
<line x1="510.35" y1="267.21" x2="513.75" y2="267.21" stroke="#1a1a1a" stroke-width="1.1" />
<line x1="510.35" y1="271.15" x2="513.75" y2="271.15" stroke="#1a1a1a" stroke-width="1.1" />
<line x1="550.35" y1="229.67" x2="550.35" y2="235.11" stroke="#1a1a1a" stroke-width="1.1" />
<line x1="548.65" y1="229.67" x2="552.05" y2="229.67" stroke="#1a1a1a" stroke-width="1.1" />
<line x1="548.65" y1="235.11" x2="552.05" y2="235.11" stroke="#1a1a1a" stroke-width="1.1" />
<line x1="580.55" y1="259.80" x2="580.55" y2="263.20" stroke="#1a1a1a" stroke-width="1.1" />
<line x1="578.85" y1="259.80" x2="582.25" y2="259.80" stroke="#1a1a1a" stroke-width="1.1" />
<line x1="578.85" y1="263.20" x2="582.25" y2="263.20" stroke="#1a1a1a" stroke-width="1.1" />
<path d="M414.90,207.00 L414.90,205.60 Q414.90,204.80 415.70,204.80 L440.90,204.80 Q441.70,204.80 441.70,205.60 L441.70,207.00" fill="none" stroke="#808080" stroke-width="1.25"/>
<text x="423.68" y="202.90" font-size="5.4" fill="#9A9A9A" font-weight="normal" stroke="#9A9A9A" stroke-width="0.1" textLength="8.43" lengthAdjust="spacingAndGlyphs" >n.s.</text>
<path d="M478.90,207.80 L478.90,205.60 Q478.90,204.80 479.70,204.80 L505.50,204.80 Q506.30,204.80 506.30,205.60 L506.30,207.80" fill="none" stroke="#262626" stroke-width="1.25"/>
<text x="484.23" y="202.90" font-size="5.4" fill="#333333" font-weight="normal" stroke="#333333" stroke-width="0.1" textLength="15.93" lengthAdjust="spacingAndGlyphs" >p =.02</text>
<path d="M546.90,208.00 L546.90,205.80 Q546.90,205.00 547.70,205.00 L573.50,205.00 Q574.30,205.00 574.30,205.80 L574.30,208.00" fill="none" stroke="#262626" stroke-width="1.25"/>
<text x="551.38" y="203.10" font-size="5.4" fill="#333333" font-weight="normal" stroke="#333333" stroke-width="0.1" textLength="17.63" lengthAdjust="spacingAndGlyphs" >p &lt; .01</text>
<text x="420.29" y="316.60" font-size="7.8" fill="#262626" font-weight="normal" stroke="#262626" stroke-width="0.3" textLength="17.12" lengthAdjust="spacingAndGlyphs" >UWS</text>
<text x="489.49" y="316.60" font-size="7.8" fill="#262626" font-weight="normal" stroke="#262626" stroke-width="0.3" textLength="15.62" lengthAdjust="spacingAndGlyphs" >MCS</text>
<text x="550.34" y="316.60" font-size="7.8" fill="#262626" font-weight="normal" stroke="#262626" stroke-width="0.3" textLength="29.22" lengthAdjust="spacingAndGlyphs" >controls</text>
<text x="0" y="0" font-size="9.6" fill="#262626" stroke="#262626" stroke-width="0.3" textLength="78.2" lengthAdjust="spacingAndGlyphs" transform="translate(367.90,290.10) rotate(-90)">power ratio (±SE)</text>
<rect x="430.00" y="320.40" width="68.20" height="10.60" fill="#fff" stroke="#666" stroke-width="0.9" />
<rect x="434.40" y="323.40" width="5.60" height="4.80" fill="#F79646" />
<text x="441.98" y="328.40" font-size="7.9" fill="#262626" font-weight="normal" stroke="#262626" stroke-width="0.3" textLength="15.63" lengthAdjust="spacingAndGlyphs" >DAY</text>
<rect x="462.80" y="323.40" width="5.10" height="4.80" fill="#1F497D" />
<text x="469.98" y="328.40" font-size="7.9" fill="#262626" font-weight="normal" stroke="#262626" stroke-width="0.3" textLength="23.93" lengthAdjust="spacingAndGlyphs" >NIGHT</text>
<rect x="526.30" y="320.40" width="73.30" height="10.60" fill="#fff" stroke="#666" stroke-width="0.9" />
<rect x="531.00" y="323.60" width="4.60" height="4.60" fill="#FCD5B5" stroke="#F5B27A" stroke-width="0.7" />
<text x="538.38" y="328.40" font-size="7.9" fill="#262626" font-weight="normal" stroke="#262626" stroke-width="0.3" textLength="21.93" lengthAdjust="spacingAndGlyphs" >WAKE</text>
<rect x="567.70" y="323.60" width="4.60" height="4.60" fill="#A7B9D3" stroke="#7F95B8" stroke-width="0.7" />
<text x="574.58" y="328.40" font-size="7.9" fill="#262626" font-weight="normal" stroke="#262626" stroke-width="0.3" textLength="22.33" lengthAdjust="spacingAndGlyphs" >SLEEP</text>
<rect x="72.40" y="344.90" width="204.60" height="65.70" fill="#EAF1E0" />
<rect x="72.40" y="410.60" width="204.60" height="43.80" fill="#EEECF5" />
<line x1="68.95" y1="454.40" x2="276.85" y2="454.40" stroke="#BFBFBF" stroke-width="0.8" />
<text x="53.08" y="457.15" font-size="8.0" fill="#262626" font-weight="normal" stroke="#262626" stroke-width="0.3" textLength="11.04" lengthAdjust="spacingAndGlyphs" >0.0</text>
<line x1="68.95" y1="432.50" x2="276.85" y2="432.50" stroke="#BFBFBF" stroke-width="0.8" />
<text x="53.08" y="435.25" font-size="8.0" fill="#262626" font-weight="normal" stroke="#262626" stroke-width="0.3" textLength="11.04" lengthAdjust="spacingAndGlyphs" >0.5</text>
<line x1="68.95" y1="410.60" x2="276.85" y2="410.60" stroke="#BFBFBF" stroke-width="0.8" />
<text x="53.08" y="413.35" font-size="8.0" fill="#262626" font-weight="normal" stroke="#262626" stroke-width="0.3" textLength="11.04" lengthAdjust="spacingAndGlyphs" >1.0</text>
<line x1="68.95" y1="388.70" x2="276.85" y2="388.70" stroke="#BFBFBF" stroke-width="0.8" />
<text x="53.08" y="391.45" font-size="8.0" fill="#262626" font-weight="normal" stroke="#262626" stroke-width="0.3" textLength="11.04" lengthAdjust="spacingAndGlyphs" >1.5</text>
<line x1="68.95" y1="366.80" x2="276.85" y2="366.80" stroke="#BFBFBF" stroke-width="0.8" />
<text x="53.08" y="369.55" font-size="8.0" fill="#262626" font-weight="normal" stroke="#262626" stroke-width="0.3" textLength="11.04" lengthAdjust="spacingAndGlyphs" >2.0</text>
<line x1="68.95" y1="344.90" x2="276.85" y2="344.90" stroke="#BFBFBF" stroke-width="0.8" />
<text x="53.08" y="347.65" font-size="8.0" fill="#262626" font-weight="normal" stroke="#262626" stroke-width="0.3" textLength="11.04" lengthAdjust="spacingAndGlyphs" >2.5</text>
<line x1="71.95" y1="344.90" x2="71.95" y2="457.40" stroke="#D6D6DA" stroke-width="1" />
<line x1="71.95" y1="454.40" x2="71.95" y2="457.40" stroke="#BFBFBF" stroke-width="0.8" />
<line x1="140.25" y1="454.40" x2="140.25" y2="457.40" stroke="#BFBFBF" stroke-width="0.8" />
<line x1="208.55" y1="454.40" x2="208.55" y2="457.40" stroke="#BFBFBF" stroke-width="0.8" />
<line x1="276.85" y1="454.40" x2="276.85" y2="457.40" stroke="#BFBFBF" stroke-width="0.8" />
<rect x="76.00" y="417.52" width="30.20" height="36.88" fill="#F79646" stroke="#1a1a1a" stroke-width="1" />
<rect x="106.20" y="416.82" width="30.20" height="37.58" fill="#1F497D" stroke="#1a1a1a" stroke-width="1" />
<rect x="144.30" y="405.21" width="30.20" height="49.19" fill="#F79646" stroke="#1a1a1a" stroke-width="1" />
<rect x="174.50" y="418.48" width="30.20" height="35.92" fill="#1F497D" stroke="#1a1a1a" stroke-width="1" />
<rect x="212.60" y="367.50" width="30.20" height="86.90" fill="url(#hwake)" stroke="#1a1a1a" stroke-width="1" />
<rect x="242.80" y="410.99" width="30.20" height="43.41" fill="url(#hsleep)" stroke="#1a1a1a" stroke-width="1" />
<line x1="71.95" y1="411.30" x2="278.35" y2="411.30" stroke="#000" stroke-width="1.6" stroke-dasharray="1.3 1.1"/>
<line x1="91.10" y1="412.22" x2="91.10" y2="422.82" stroke="#1a1a1a" stroke-width="1.1" />
<line x1="89.40" y1="412.22" x2="92.80" y2="412.22" stroke="#1a1a1a" stroke-width="1.1" />
<line x1="89.40" y1="422.82" x2="92.80" y2="422.82" stroke="#1a1a1a" stroke-width="1.1" />
<line x1="121.30" y1="413.23" x2="121.30" y2="420.41" stroke="#1a1a1a" stroke-width="1.1" />
<line x1="119.60" y1="413.23" x2="123.00" y2="413.23" stroke="#1a1a1a" stroke-width="1.1" />
<line x1="119.60" y1="420.41" x2="123.00" y2="420.41" stroke="#1a1a1a" stroke-width="1.1" />
<line x1="159.40" y1="399.08" x2="159.40" y2="411.34" stroke="#1a1a1a" stroke-width="1.1" />
<line x1="157.70" y1="399.08" x2="161.10" y2="399.08" stroke="#1a1a1a" stroke-width="1.1" />
<line x1="157.70" y1="411.34" x2="161.10" y2="411.34" stroke="#1a1a1a" stroke-width="1.1" />
<line x1="189.60" y1="414.50" x2="189.60" y2="422.47" stroke="#1a1a1a" stroke-width="1.1" />
<line x1="187.90" y1="414.50" x2="191.30" y2="414.50" stroke="#1a1a1a" stroke-width="1.1" />
<line x1="187.90" y1="422.47" x2="191.30" y2="422.47" stroke="#1a1a1a" stroke-width="1.1" />
<line x1="227.70" y1="362.81" x2="227.70" y2="372.19" stroke="#1a1a1a" stroke-width="1.1" />
<line x1="226.00" y1="362.81" x2="229.40" y2="362.81" stroke="#1a1a1a" stroke-width="1.1" />
<line x1="226.00" y1="372.19" x2="229.40" y2="372.19" stroke="#1a1a1a" stroke-width="1.1" />
<line x1="257.90" y1="407.71" x2="257.90" y2="414.28" stroke="#1a1a1a" stroke-width="1.1" />
<line x1="256.20" y1="407.71" x2="259.60" y2="407.71" stroke="#1a1a1a" stroke-width="1.1" />
<line x1="256.20" y1="414.28" x2="259.60" y2="414.28" stroke="#1a1a1a" stroke-width="1.1" />
<path d="M92.10,367.70 L92.10,366.30 Q92.10,365.50 92.90,365.50 L118.20,365.50 Q119.00,365.50 119.00,366.30 L119.00,367.70" fill="none" stroke="#808080" stroke-width="1.25"/>
<text x="100.93" y="363.60" font-size="5.4" fill="#9A9A9A" font-weight="normal" stroke="#9A9A9A" stroke-width="0.1" textLength="8.43" lengthAdjust="spacingAndGlyphs" >n.s.</text>
<path d="M158.90,369.50 L158.90,367.30 Q158.90,366.50 159.70,366.50 L185.50,366.50 Q186.30,366.50 186.30,367.30 L186.30,369.50" fill="none" stroke="#262626" stroke-width="1.25"/>
<text x="163.83" y="364.60" font-size="5.4" fill="#333333" font-weight="normal" stroke="#333333" stroke-width="0.1" textLength="16.73" lengthAdjust="spacingAndGlyphs" >p = .01</text>
<path d="M228.60,357.40 L228.60,355.20 Q228.60,354.40 229.40,354.40 L255.50,354.40 Q256.30,354.40 256.30,355.20 L256.30,357.40" fill="none" stroke="#262626" stroke-width="1.25"/>
<text x="233.33" y="352.50" font-size="5.4" fill="#333333" font-weight="normal" stroke="#333333" stroke-width="0.1" textLength="17.43" lengthAdjust="spacingAndGlyphs" >p &lt; .01</text>
<text x="96.99" y="468.70" font-size="7.8" fill="#262626" font-weight="normal" stroke="#262626" stroke-width="0.3" textLength="17.12" lengthAdjust="spacingAndGlyphs" >UWS</text>
<text x="166.49" y="468.70" font-size="7.8" fill="#262626" font-weight="normal" stroke="#262626" stroke-width="0.3" textLength="15.62" lengthAdjust="spacingAndGlyphs" >MCS</text>
<text x="227.84" y="468.70" font-size="7.8" fill="#262626" font-weight="normal" stroke="#262626" stroke-width="0.3" textLength="29.22" lengthAdjust="spacingAndGlyphs" >controls</text>
<text x="0" y="0" font-size="9.6" fill="#262626" stroke="#262626" stroke-width="0.3" textLength="78.2" lengthAdjust="spacingAndGlyphs" transform="translate(47.90,440.30) rotate(-90)">power ratio (±SE)</text>
<rect x="110.50" y="472.30" width="68.30" height="10.70" fill="#fff" stroke="#666" stroke-width="0.9" />
<rect x="114.90" y="475.30" width="5.60" height="4.80" fill="#F79646" />
<text x="122.48" y="480.30" font-size="7.9" fill="#262626" font-weight="normal" stroke="#262626" stroke-width="0.3" textLength="15.63" lengthAdjust="spacingAndGlyphs" >DAY</text>
<rect x="143.30" y="475.30" width="5.10" height="4.80" fill="#1F497D" />
<text x="150.48" y="480.30" font-size="7.9" fill="#262626" font-weight="normal" stroke="#262626" stroke-width="0.3" textLength="23.93" lengthAdjust="spacingAndGlyphs" >NIGHT</text>
<rect x="207.50" y="472.30" width="72.50" height="10.70" fill="#fff" stroke="#666" stroke-width="0.9" />
<rect x="212.20" y="475.50" width="4.60" height="4.60" fill="#FCD5B5" stroke="#F5B27A" stroke-width="0.7" />
<text x="219.58" y="480.30" font-size="7.9" fill="#262626" font-weight="normal" stroke="#262626" stroke-width="0.3" textLength="21.93" lengthAdjust="spacingAndGlyphs" >WAKE</text>
<rect x="248.90" y="475.50" width="4.60" height="4.60" fill="#A7B9D3" stroke="#7F95B8" stroke-width="0.7" />
<text x="255.78" y="480.30" font-size="7.9" fill="#262626" font-weight="normal" stroke="#262626" stroke-width="0.3" textLength="22.33" lengthAdjust="spacingAndGlyphs" >SLEEP</text>
<rect x="393.80" y="344.80" width="204.70" height="41.10" fill="#EAF1E0" />
<rect x="393.80" y="385.90" width="204.70" height="68.50" fill="#EEECF5" />
<line x1="390.35" y1="454.40" x2="598.85" y2="454.40" stroke="#BFBFBF" stroke-width="0.8" />
<text x="376.28" y="457.15" font-size="8.0" fill="#262626" font-weight="normal" stroke="#262626" stroke-width="0.3" textLength="11.04" lengthAdjust="spacingAndGlyphs" >0.0</text>
<line x1="390.35" y1="440.70" x2="598.85" y2="440.70" stroke="#BFBFBF" stroke-width="0.8" />
<text x="376.28" y="443.45" font-size="8.0" fill="#262626" font-weight="normal" stroke="#262626" stroke-width="0.3" textLength="11.04" lengthAdjust="spacingAndGlyphs" >0.2</text>
<line x1="390.35" y1="427.00" x2="598.85" y2="427.00" stroke="#BFBFBF" stroke-width="0.8" />
<text x="376.28" y="429.75" font-size="8.0" fill="#262626" font-weight="normal" stroke="#262626" stroke-width="0.3" textLength="11.04" lengthAdjust="spacingAndGlyphs" >0.4</text>
<line x1="390.35" y1="413.30" x2="598.85" y2="413.30" stroke="#BFBFBF" stroke-width="0.8" />
<text x="376.28" y="416.05" font-size="8.0" fill="#262626" font-weight="normal" stroke="#262626" stroke-width="0.3" textLength="11.04" lengthAdjust="spacingAndGlyphs" >0.6</text>
<line x1="390.35" y1="399.60" x2="598.85" y2="399.60" stroke="#BFBFBF" stroke-width="0.8" />
<text x="376.28" y="402.35" font-size="8.0" fill="#262626" font-weight="normal" stroke="#262626" stroke-width="0.3" textLength="11.04" lengthAdjust="spacingAndGlyphs" >0.8</text>
<line x1="390.35" y1="385.90" x2="598.85" y2="385.90" stroke="#BFBFBF" stroke-width="0.8" />
<text x="376.28" y="388.65" font-size="8.0" fill="#262626" font-weight="normal" stroke="#262626" stroke-width="0.3" textLength="11.04" lengthAdjust="spacingAndGlyphs" >1.0</text>
<line x1="390.35" y1="372.20" x2="598.85" y2="372.20" stroke="#BFBFBF" stroke-width="0.8" />
<text x="376.28" y="374.95" font-size="8.0" fill="#262626" font-weight="normal" stroke="#262626" stroke-width="0.3" textLength="11.04" lengthAdjust="spacingAndGlyphs" >1.2</text>
<line x1="390.35" y1="358.50" x2="598.85" y2="358.50" stroke="#BFBFBF" stroke-width="0.8" />
<text x="376.28" y="361.25" font-size="8.0" fill="#262626" font-weight="normal" stroke="#262626" stroke-width="0.3" textLength="11.04" lengthAdjust="spacingAndGlyphs" >1.4</text>
<line x1="390.35" y1="344.80" x2="598.85" y2="344.80" stroke="#BFBFBF" stroke-width="0.8" />
<text x="376.28" y="347.55" font-size="8.0" fill="#262626" font-weight="normal" stroke="#262626" stroke-width="0.3" textLength="11.04" lengthAdjust="spacingAndGlyphs" >1.6</text>
<line x1="393.35" y1="344.80" x2="393.35" y2="457.40" stroke="#D6D6DA" stroke-width="1" />
<line x1="393.35" y1="454.40" x2="393.35" y2="457.40" stroke="#BFBFBF" stroke-width="0.8" />
<line x1="461.85" y1="454.40" x2="461.85" y2="457.40" stroke="#BFBFBF" stroke-width="0.8" />
<line x1="530.35" y1="454.40" x2="530.35" y2="457.40" stroke="#BFBFBF" stroke-width="0.8" />
<line x1="598.85" y1="454.40" x2="598.85" y2="457.40" stroke="#BFBFBF" stroke-width="0.8" />
<rect x="397.40" y="419.67" width="30.20" height="34.73" fill="#F79646" stroke="#1a1a1a" stroke-width="1" />
<rect x="427.60" y="420.42" width="30.20" height="33.98" fill="#1F497D" stroke="#1a1a1a" stroke-width="1" />
<rect x="465.90" y="411.59" width="30.20" height="42.81" fill="#F79646" stroke="#1a1a1a" stroke-width="1" />
<rect x="496.10" y="419.67" width="30.20" height="34.73" fill="#1F497D" stroke="#1a1a1a" stroke-width="1" />
<rect x="534.40" y="356.79" width="30.20" height="97.61" fill="url(#hwake)" stroke="#1a1a1a" stroke-width="1" />
<rect x="564.60" y="410.08" width="30.20" height="44.32" fill="url(#hsleep)" stroke="#1a1a1a" stroke-width="1" />
<line x1="393.35" y1="386.40" x2="600.35" y2="386.40" stroke="#000" stroke-width="1.6" stroke-dasharray="1.3 1.1"/>
<line x1="412.50" y1="412.20" x2="412.50" y2="427.14" stroke="#1a1a1a" stroke-width="1.1" />
<line x1="410.80" y1="412.20" x2="414.20" y2="412.20" stroke="#1a1a1a" stroke-width="1.1" />
<line x1="410.80" y1="427.14" x2="414.20" y2="427.14" stroke="#1a1a1a" stroke-width="1.1" />
<line x1="442.70" y1="417.82" x2="442.70" y2="423.03" stroke="#1a1a1a" stroke-width="1.1" />
<line x1="441.00" y1="417.82" x2="444.40" y2="417.82" stroke="#1a1a1a" stroke-width="1.1" />
<line x1="441.00" y1="423.03" x2="444.40" y2="423.03" stroke="#1a1a1a" stroke-width="1.1" />
<line x1="481.00" y1="404.94" x2="481.00" y2="418.23" stroke="#1a1a1a" stroke-width="1.1" />
<line x1="479.30" y1="404.94" x2="482.70" y2="404.94" stroke="#1a1a1a" stroke-width="1.1" />
<line x1="479.30" y1="418.23" x2="482.70" y2="418.23" stroke="#1a1a1a" stroke-width="1.1" />
<line x1="511.20" y1="417.20" x2="511.20" y2="422.14" stroke="#1a1a1a" stroke-width="1.1" />
<line x1="509.50" y1="417.20" x2="512.90" y2="417.20" stroke="#1a1a1a" stroke-width="1.1" />
<line x1="509.50" y1="422.14" x2="512.90" y2="422.14" stroke="#1a1a1a" stroke-width="1.1" />
<line x1="549.50" y1="351.17" x2="549.50" y2="362.40" stroke="#1a1a1a" stroke-width="1.1" />
<line x1="547.80" y1="351.17" x2="551.20" y2="351.17" stroke="#1a1a1a" stroke-width="1.1" />
<line x1="547.80" y1="362.40" x2="551.20" y2="362.40" stroke="#1a1a1a" stroke-width="1.1" />
<line x1="579.70" y1="408.30" x2="579.70" y2="411.86" stroke="#1a1a1a" stroke-width="1.1" />
<line x1="578.00" y1="408.30" x2="581.40" y2="408.30" stroke="#1a1a1a" stroke-width="1.1" />
<line x1="578.00" y1="411.86" x2="581.40" y2="411.86" stroke="#1a1a1a" stroke-width="1.1" />
<path d="M413.10,359.90 L413.10,358.50 Q413.10,357.70 413.90,357.70 L439.10,357.70 Q439.90,357.70 439.90,358.50 L439.90,359.90" fill="none" stroke="#808080" stroke-width="1.25"/>
<text x="421.88" y="355.80" font-size="5.4" fill="#9A9A9A" font-weight="normal" stroke="#9A9A9A" stroke-width="0.1" textLength="8.43" lengthAdjust="spacingAndGlyphs" >n.s.</text>
<path d="M479.70,360.70 L479.70,358.50 Q479.70,357.70 480.50,357.70 L505.70,357.70 Q506.50,357.70 506.50,358.50 L506.50,360.70" fill="none" stroke="#262626" stroke-width="1.25"/>
<text x="484.73" y="355.80" font-size="5.4" fill="#333333" font-weight="normal" stroke="#333333" stroke-width="0.1" textLength="15.93" lengthAdjust="spacingAndGlyphs" >p =.01</text>
<path d="M549.30,346.80 L549.30,344.60 Q549.30,343.80 550.10,343.80 L575.40,343.80 Q576.20,343.80 576.20,344.60 L576.20,346.80" fill="none" stroke="#262626" stroke-width="1.25"/>
<text x="553.83" y="341.90" font-size="5.4" fill="#333333" font-weight="normal" stroke="#333333" stroke-width="0.1" textLength="17.03" lengthAdjust="spacingAndGlyphs" >p &lt; .01</text>
<text x="418.84" y="468.70" font-size="7.8" fill="#262626" font-weight="normal" stroke="#262626" stroke-width="0.3" textLength="17.12" lengthAdjust="spacingAndGlyphs" >UWS</text>
<text x="488.69" y="468.70" font-size="7.8" fill="#262626" font-weight="normal" stroke="#262626" stroke-width="0.3" textLength="15.62" lengthAdjust="spacingAndGlyphs" >MCS</text>
<text x="549.69" y="468.70" font-size="7.8" fill="#262626" font-weight="normal" stroke="#262626" stroke-width="0.3" textLength="29.22" lengthAdjust="spacingAndGlyphs" >controls</text>
<text x="0" y="0" font-size="9.6" fill="#262626" stroke="#262626" stroke-width="0.3" textLength="78.2" lengthAdjust="spacingAndGlyphs" transform="translate(367.90,443.20) rotate(-90)">power ratio (±SE)</text>
<rect x="430.80" y="472.20" width="67.60" height="10.40" fill="#fff" stroke="#666" stroke-width="0.9" />
<rect x="435.20" y="475.20" width="5.60" height="4.80" fill="#F79646" />
<text x="442.78" y="480.20" font-size="7.9" fill="#262626" font-weight="normal" stroke="#262626" stroke-width="0.3" textLength="15.63" lengthAdjust="spacingAndGlyphs" >DAY</text>
<rect x="463.60" y="475.20" width="5.10" height="4.80" fill="#1F497D" />
<text x="470.78" y="480.20" font-size="7.9" fill="#262626" font-weight="normal" stroke="#262626" stroke-width="0.3" textLength="23.93" lengthAdjust="spacingAndGlyphs" >NIGHT</text>
<rect x="526.60" y="472.20" width="73.00" height="10.40" fill="#fff" stroke="#666" stroke-width="0.9" />
<rect x="531.30" y="475.40" width="4.60" height="4.60" fill="#FCD5B5" stroke="#F5B27A" stroke-width="0.7" />
<text x="538.68" y="480.20" font-size="7.9" fill="#262626" font-weight="normal" stroke="#262626" stroke-width="0.3" textLength="21.93" lengthAdjust="spacingAndGlyphs" >WAKE</text>
<rect x="568.00" y="475.40" width="4.60" height="4.60" fill="#A7B9D3" stroke="#7F95B8" stroke-width="0.7" />
<text x="574.88" y="480.20" font-size="7.9" fill="#262626" font-weight="normal" stroke="#262626" stroke-width="0.3" textLength="22.33" lengthAdjust="spacingAndGlyphs" >SLEEP</text>
<line x1="283.10" y1="87.95" x2="296.30" y2="87.95" stroke="#9BBB59" stroke-width="1.7"/>
<path d="M287.50,85.35 L282.90,87.95 L287.50,90.55" fill="none" stroke="#9BBB59" stroke-width="1.7" stroke-linejoin="miter"/>
<rect x="296.30" y="75.30" width="48.20" height="25.30" fill="#DDE8C8" stroke="#BDD095" stroke-width="1" />
<line x1="283.90" y1="126.25" x2="297.10" y2="126.25" stroke="#8064A2" stroke-width="1.7"/>
<path d="M288.30,123.65 L283.70,126.25 L288.30,128.85" fill="none" stroke="#8064A2" stroke-width="1.7" stroke-linejoin="miter"/>
<rect x="297.10" y="113.60" width="47.90" height="25.30" fill="#E7E3F0" stroke="#B3A2C7" stroke-width="1" />
<text x="308.10" y="85.30" font-size="7.6" fill="#262626" font-weight="normal" stroke="#262626" stroke-width="0.22" textLength="22.91" lengthAdjust="spacingAndGlyphs" >Higher</text>
<text x="301.60" y="95.70" font-size="7.6" fill="#262626" font-weight="normal" stroke="#262626" stroke-width="0.22" textLength="37.71" lengthAdjust="spacingAndGlyphs" >α+β power</text>
<text x="308.90" y="123.60" font-size="7.6" fill="#262626" font-weight="normal" stroke="#262626" stroke-width="0.22" textLength="22.91" lengthAdjust="spacingAndGlyphs" >Higher</text>
<text x="302.40" y="134.00" font-size="7.6" fill="#262626" font-weight="normal" stroke="#262626" stroke-width="0.22" textLength="37.71" lengthAdjust="spacingAndGlyphs" >δ+θ power</text>
<line x1="604.60" y1="64.85" x2="622.10" y2="64.85" stroke="#9BBB59" stroke-width="1.7"/>
<path d="M609.00,62.25 L604.40,64.85 L609.00,67.45" fill="none" stroke="#9BBB59" stroke-width="1.7" stroke-linejoin="miter"/>
<rect x="622.10" y="52.20" width="39.20" height="25.30" fill="#DDE8C8" stroke="#BDD095" stroke-width="1" />
<line x1="604.60" y1="107.75" x2="622.10" y2="107.75" stroke="#8064A2" stroke-width="1.7"/>
<path d="M609.00,105.15 L604.40,107.75 L609.00,110.35" fill="none" stroke="#8064A2" stroke-width="1.7" stroke-linejoin="miter"/>
<rect x="622.10" y="95.10" width="38.90" height="25.30" fill="#E7E3F0" stroke="#B3A2C7" stroke-width="1" />
<text x="628.90" y="62.40" font-size="7.6" fill="#262626" font-weight="normal" stroke="#262626" stroke-width="0.22" textLength="23.51" lengthAdjust="spacingAndGlyphs" >Higher</text>
<text x="626.70" y="72.60" font-size="7.6" fill="#262626" font-weight="normal" stroke="#262626" stroke-width="0.22" textLength="29.31" lengthAdjust="spacingAndGlyphs" >α power</text>
<text x="628.90" y="105.30" font-size="7.6" fill="#262626" font-weight="normal" stroke="#262626" stroke-width="0.22" textLength="23.51" lengthAdjust="spacingAndGlyphs" >Higher</text>
<text x="626.30" y="115.50" font-size="7.6" fill="#262626" font-weight="normal" stroke="#262626" stroke-width="0.22" textLength="28.91" lengthAdjust="spacingAndGlyphs" >θ power</text>
<line x1="283.10" y1="239.95" x2="296.30" y2="239.95" stroke="#9BBB59" stroke-width="1.7"/>
<path d="M287.50,237.35 L282.90,239.95 L287.50,242.55" fill="none" stroke="#9BBB59" stroke-width="1.7" stroke-linejoin="miter"/>
<rect x="296.30" y="227.30" width="48.20" height="25.30" fill="#DDE8C8" stroke="#BDD095" stroke-width="1" />
<line x1="283.90" y1="278.25" x2="297.10" y2="278.25" stroke="#8064A2" stroke-width="1.7"/>
<path d="M288.30,275.65 L283.70,278.25 L288.30,280.85" fill="none" stroke="#8064A2" stroke-width="1.7" stroke-linejoin="miter"/>
<rect x="297.10" y="265.60" width="47.90" height="25.30" fill="#E7E3F0" stroke="#B3A2C7" stroke-width="1" />
<text x="308.10" y="237.30" font-size="7.6" fill="#262626" font-weight="normal" stroke="#262626" stroke-width="0.22" textLength="22.91" lengthAdjust="spacingAndGlyphs" >Higher</text>
<text x="301.60" y="247.70" font-size="7.6" fill="#262626" font-weight="normal" stroke="#262626" stroke-width="0.22" textLength="37.71" lengthAdjust="spacingAndGlyphs" >α+β power</text>
<text x="308.90" y="275.60" font-size="7.6" fill="#262626" font-weight="normal" stroke="#262626" stroke-width="0.22" textLength="22.91" lengthAdjust="spacingAndGlyphs" >Higher</text>
<text x="302.40" y="286.00" font-size="7.6" fill="#262626" font-weight="normal" stroke="#262626" stroke-width="0.22" textLength="37.71" lengthAdjust="spacingAndGlyphs" >δ+θ power</text>
<line x1="604.50" y1="218.35" x2="622.00" y2="218.35" stroke="#9BBB59" stroke-width="1.7"/>
<path d="M608.90,215.75 L604.30,218.35 L608.90,220.95" fill="none" stroke="#9BBB59" stroke-width="1.7" stroke-linejoin="miter"/>
<rect x="622.00" y="205.70" width="39.20" height="25.30" fill="#DDE8C8" stroke="#BDD095" stroke-width="1" />
<line x1="604.50" y1="261.45" x2="622.00" y2="261.45" stroke="#8064A2" stroke-width="1.7"/>
<path d="M608.90,258.85 L604.30,261.45 L608.90,264.05" fill="none" stroke="#8064A2" stroke-width="1.7" stroke-linejoin="miter"/>
<rect x="622.00" y="248.80" width="38.90" height="25.30" fill="#E7E3F0" stroke="#B3A2C7" stroke-width="1" />
<text x="628.80" y="215.90" font-size="7.6" fill="#262626" font-weight="normal" stroke="#262626" stroke-width="0.22" textLength="23.51" lengthAdjust="spacingAndGlyphs" >Higher</text>
<text x="626.60" y="226.10" font-size="7.6" fill="#262626" font-weight="normal" stroke="#262626" stroke-width="0.22" textLength="29.31" lengthAdjust="spacingAndGlyphs" >α power</text>
<text x="628.80" y="259.00" font-size="7.6" fill="#262626" font-weight="normal" stroke="#262626" stroke-width="0.22" textLength="23.51" lengthAdjust="spacingAndGlyphs" >Higher</text>
<text x="626.20" y="269.20" font-size="7.6" fill="#262626" font-weight="normal" stroke="#262626" stroke-width="0.22" textLength="28.91" lengthAdjust="spacingAndGlyphs" >θ power</text>
<line x1="283.10" y1="391.95" x2="296.30" y2="391.95" stroke="#9BBB59" stroke-width="1.7"/>
<path d="M287.50,389.35 L282.90,391.95 L287.50,394.55" fill="none" stroke="#9BBB59" stroke-width="1.7" stroke-linejoin="miter"/>
<rect x="296.30" y="379.30" width="48.20" height="25.30" fill="#DDE8C8" stroke="#BDD095" stroke-width="1" />
<line x1="283.90" y1="430.25" x2="297.10" y2="430.25" stroke="#8064A2" stroke-width="1.7"/>
<path d="M288.30,427.65 L283.70,430.25 L288.30,432.85" fill="none" stroke="#8064A2" stroke-width="1.7" stroke-linejoin="miter"/>
<rect x="297.10" y="417.60" width="47.90" height="25.30" fill="#E7E3F0" stroke="#B3A2C7" stroke-width="1" />
<text x="308.10" y="389.30" font-size="7.6" fill="#262626" font-weight="normal" stroke="#262626" stroke-width="0.22" textLength="22.91" lengthAdjust="spacingAndGlyphs" >Higher</text>
<text x="301.60" y="399.70" font-size="7.6" fill="#262626" font-weight="normal" stroke="#262626" stroke-width="0.22" textLength="37.71" lengthAdjust="spacingAndGlyphs" >α+β power</text>
<text x="308.90" y="427.60" font-size="7.6" fill="#262626" font-weight="normal" stroke="#262626" stroke-width="0.22" textLength="22.91" lengthAdjust="spacingAndGlyphs" >Higher</text>
<text x="302.40" y="438.00" font-size="7.6" fill="#262626" font-weight="normal" stroke="#262626" stroke-width="0.22" textLength="37.71" lengthAdjust="spacingAndGlyphs" >δ+θ power</text>
<line x1="604.90" y1="371.15" x2="622.40" y2="371.15" stroke="#9BBB59" stroke-width="1.7"/>
<path d="M609.30,368.55 L604.70,371.15 L609.30,373.75" fill="none" stroke="#9BBB59" stroke-width="1.7" stroke-linejoin="miter"/>
<rect x="622.40" y="358.50" width="39.20" height="25.30" fill="#DDE8C8" stroke="#BDD095" stroke-width="1" />
<line x1="604.90" y1="414.55" x2="622.40" y2="414.55" stroke="#8064A2" stroke-width="1.7"/>
<path d="M609.30,411.95 L604.70,414.55 L609.30,417.15" fill="none" stroke="#8064A2" stroke-width="1.7" stroke-linejoin="miter"/>
<rect x="622.40" y="401.90" width="38.90" height="25.30" fill="#E7E3F0" stroke="#B3A2C7" stroke-width="1" />
<text x="629.20" y="368.70" font-size="7.6" fill="#262626" font-weight="normal" stroke="#262626" stroke-width="0.22" textLength="23.51" lengthAdjust="spacingAndGlyphs" >Higher</text>
<text x="627.00" y="378.90" font-size="7.6" fill="#262626" font-weight="normal" stroke="#262626" stroke-width="0.22" textLength="29.31" lengthAdjust="spacingAndGlyphs" >α power</text>
<text x="629.20" y="412.10" font-size="7.6" fill="#262626" font-weight="normal" stroke="#262626" stroke-width="0.22" textLength="23.51" lengthAdjust="spacingAndGlyphs" >Higher</text>
<text x="626.60" y="422.30" font-size="7.6" fill="#262626" font-weight="normal" stroke="#262626" stroke-width="0.22" textLength="28.91" lengthAdjust="spacingAndGlyphs" >θ power</text>
<line x1="1.00" y1="4.00" x2="673.50" y2="4.00" stroke="#6b6b6b" stroke-width="2" />
<line x1="1.50" y1="4.00" x2="1.50" y2="486.00" stroke="#8a8a8a" stroke-width="1.2" />
<line x1="672.80" y1="4.00" x2="672.80" y2="486.00" stroke="#8a8a8a" stroke-width="1.2" />
<line x1="1.00" y1="485.80" x2="673.50" y2="485.80" stroke="#8a8a8a" stroke-width="1.4" />
<line x1="32.50" y1="4.00" x2="32.50" y2="486.00" stroke="#3a3a3a" stroke-width="1" />
<line x1="353.00" y1="4.00" x2="353.00" y2="486.00" stroke="#8a8a8a" stroke-width="2" />
<line x1="1.00" y1="29.30" x2="673.50" y2="29.30" stroke="#555" stroke-width="1.3" />
<line x1="1.00" y1="181.50" x2="673.50" y2="181.50" stroke="#555" stroke-width="1" />
<line x1="1.00" y1="333.80" x2="673.50" y2="333.80" stroke="#666" stroke-width="1.5" />
<text x="83.61" y="22.30" font-size="14.5" fill="#111" font-weight="bold" stroke="#111" stroke-width="0.15" textLength="36.96" lengthAdjust="spacingAndGlyphs" >HIGH</text>
<text x="129.36" y="22.30" font-size="14.5" fill="#111" font-weight="bold" stroke="#111" stroke-width="0.15" textLength="32.44" lengthAdjust="spacingAndGlyphs" >LOW</text>
<text x="167.40" y="22.30" font-size="14.5" fill="#111" font-weight="bold" stroke="#111" stroke-width="0.15" textLength="86.39" lengthAdjust="spacingAndGlyphs" >FREQUENCY</text>
<text x="258.45" y="22.30" font-size="14.5" fill="#111" font-weight="bold" stroke="#111" stroke-width="0.15" textLength="43.51" lengthAdjust="spacingAndGlyphs" >RATIO</text>
<text x="393.09" y="22.30" font-size="14.5" fill="#111" font-weight="bold" stroke="#111" stroke-width="0.15" textLength="48.25" lengthAdjust="spacingAndGlyphs" >ALPHA</text>
<text x="448.93" y="22.30" font-size="14.5" fill="#111" font-weight="bold" stroke="#111" stroke-width="0.15" textLength="45.59" lengthAdjust="spacingAndGlyphs" >THETA</text>
<text x="498.97" y="22.30" font-size="14.5" fill="#111" font-weight="bold" stroke="#111" stroke-width="0.15" textLength="86.19" lengthAdjust="spacingAndGlyphs" >FREQUENCY</text>
<text x="589.99" y="22.30" font-size="14.5" fill="#111" font-weight="bold" stroke="#111" stroke-width="0.15" textLength="42.49" lengthAdjust="spacingAndGlyphs" >RATIO</text>
<line x1="122.70" y1="24.10" x2="128.00" y2="10.80" stroke="#111" stroke-width="1.9" />
<line x1="442.70" y1="24.10" x2="448.00" y2="10.80" stroke="#111" stroke-width="1.9" />
<text x="0" y="0" font-size="15.4" font-weight="bold" fill="#111" stroke="#111" stroke-width="0.2" textLength="14.6" lengthAdjust="spacingAndGlyphs" transform="translate(23.3,113.1) rotate(-90)">Fz</text>
<text x="0" y="0" font-size="15.4" font-weight="bold" fill="#111" stroke="#111" stroke-width="0.2" textLength="14.6" lengthAdjust="spacingAndGlyphs" transform="translate(23.3,265.1) rotate(-90)">Cz</text>
<text x="0" y="0" font-size="15.4" font-weight="bold" fill="#111" stroke="#111" stroke-width="0.2" textLength="14.6" lengthAdjust="spacingAndGlyphs" transform="translate(23.3,417.6) rotate(-90)">Pz</text>
</svg>
</body></html>
